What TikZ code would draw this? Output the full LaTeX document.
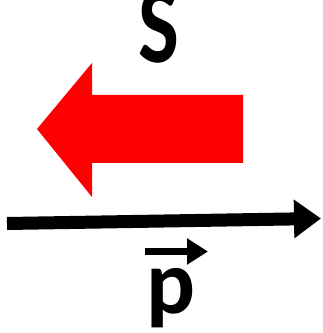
\documentclass[tikz,border=0pt]{standalone}
\usepackage{fontspec}
\setmainfont{Carlito}
\usepackage{tikz}
\usetikzlibrary{arrows.meta}
\definecolor{SpinC}{HTML}{FF0000}

\begin{document}
\begin{tikzpicture}[x=0.02cm,y=-0.02cm,
  biglabel/.style={font=\fontsize{48}{48}\selectfont\bfseries,inner sep=0pt}]
\useasboundingbox (0,0) rectangle (322,333);

% spin: block arrow pointing left
\fill[SpinC] (243,95) -- (92,95) -- (92,63) -- (37,129) -- (92,197)
  -- (92,163) -- (243,163) -- cycle;
\node[biglabel,font=\fontsize{63}{63}\selectfont\bfseries,xscale=0.78,anchor=base] (spin) at (159,63) {S};

% momentum axis
\coordinate (axL) at (7,223.5);
\coordinate (axR) at (321,218.5);
\draw[line width=0.26cm,-{Triangle[length=0.54cm,width=0.74cm]}] (axL) -- (axR);

% momentum label
\node[biglabel,font=\fontsize{52}{52}\selectfont\bfseries,anchor=base] (mom) at (171,313) {p};
\draw[line width=0.14cm,-{Triangle[length=0.42cm,width=0.5cm]}]
  (145,251.5) -- (208,251.5);
\end{tikzpicture}
\end{document}
